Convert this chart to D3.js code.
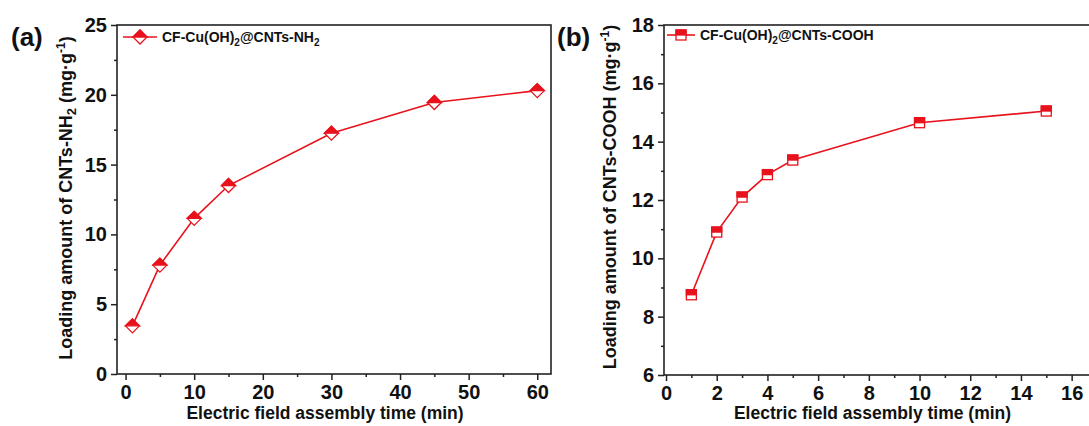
<!DOCTYPE html>
<html><head><meta charset="utf-8">
<script src="https://cdn.jsdelivr.net/npm/d3@7"></script>
<style>body{margin:0;background:#fff}svg{display:block}text{font-family:"Liberation Sans",Arial,sans-serif;font-weight:bold;fill:#111}</style>
</head><body>
<svg id="c" width="1089" height="426"></svg>
<script>
const timeA = [1, 5, 10, 15, 30, 45, 60];
const loadA = [3.45, 7.8, 11.15, 13.5, 17.25, 19.45, 20.3];
const timeB = [1, 2, 3, 4, 5, 10, 15];
const loadB = [8.75, 10.9, 12.1, 12.87, 13.37, 14.65, 15.05];
const xTicksA = [0, 10, 20, 30, 40, 50, 60];
const yTicksA = [0, 5, 10, 15, 20, 25];
const xTicksB = [0, 2, 4, 6, 8, 10, 12, 14, 16];
const yTicksB = [6, 8, 10, 12, 14, 16, 18];
const RED = "#e8121c";
const svg = d3.select("#c");

function panel(o) {
  const g = svg.append("g");
  const x = d3.scaleLinear().domain(o.xd).range(o.xr);
  const y = d3.scaleLinear().domain(o.yd).range(o.yr);
  const [x0, x1] = o.xr, [y0, y1] = o.yr;
  g.append("rect").attr("x", x0).attr("y", y1).attr("width", x1 - x0).attr("height", y0 - y1)
    .attr("fill", "none").attr("stroke", "#222").attr("stroke-width", 1.6);
  const xa = d3.axisBottom(x).tickValues(o.xt).tickSize(6).tickPadding(5).tickFormat(d3.format("d"));
  g.append("g").attr("transform", `translate(0,${y0})`).call(xa);
  const xm = d3.axisBottom(x).tickValues(o.xm).tickSize(3).tickFormat("");
  g.append("g").attr("transform", `translate(0,${y0})`).call(xm);
  const ya = d3.axisLeft(y).tickValues(o.yt).tickSize(6).tickPadding(4).tickFormat(d3.format("d"));
  g.append("g").attr("transform", `translate(${x0},0)`).call(ya);
  const ym = d3.axisLeft(y).tickValues(o.ym).tickSize(3).tickFormat("");
  g.append("g").attr("transform", `translate(${x0},0)`).call(ym);
  g.selectAll(".domain").remove();
  g.selectAll(".tick line").attr("stroke", "#222").attr("stroke-width", 1.5);
  g.selectAll(".tick text").style("font-size", "20px").attr("fill", "#111");
  g.append("path").datum(o.xs.map((d, i) => [d, o.ys[i]]))
    .attr("d", d3.line().x(d => x(d[0])).y(d => y(d[1])))
    .attr("fill", "none").attr("stroke", RED).attr("stroke-width", 1.6);
  o.xs.forEach((d, i) => o.marker(g, x(d), y(o.ys[i])));
  // legend
  g.append("line").attr("x1", o.leg[0]).attr("x2", o.leg[0] + o.legW).attr("y1", o.leg[1]).attr("y2", o.leg[1])
    .attr("stroke", RED).attr("stroke-width", 1.6);
  o.marker(g, o.leg[0] + o.legW / 2, o.leg[1]);
  const lt = g.append("text").attr("x", o.leg[0] + o.legW + 5).attr("y", o.leg[1] + 5).style("font-size", "14px");
  lt.append("tspan").text("CF-Cu(OH)");
  lt.append("tspan").text("2").attr("dy", 4).style("font-size", "10px");
  lt.append("tspan").text("@CNTs-" + o.grp).attr("dy", -4);
  if (o.grpSub) { lt.append("tspan").text("2").attr("dy", 4).style("font-size", "10px"); }
  // x label
  g.append("text").attr("x", (o.xr[0] + o.xr[1]) / 2 + o.xlOff).attr("y", 419)
    .attr("text-anchor", "middle").style("font-size", "17.5px").text("Electric field assembly time (min)");
  // y label
  const yl = g.append("text").attr("transform", `translate(${o.ylx},${o.yly}) rotate(-90)`)
    .attr("text-anchor", "middle").style("font-size", "18px");
  yl.append("tspan").text("Loading amount of CNTs-" + o.grp);
  if (o.grpSub) yl.append("tspan").text("2").attr("dy", 4).style("font-size", "13px");
  yl.append("tspan").text(" (mg·g").attr("dy", o.grpSub ? -4 : 0);
  yl.append("tspan").text("-1").attr("dy", -7).style("font-size", "12px");
  yl.append("tspan").text(")").attr("dy", 7);
  g.append("text").attr("x", o.pl[0]).attr("y", o.pl[1]).style("font-size", "26px").text(o.plt);
}

function diamond(g, cx, cy) {
  const r = 7;
  g.append("path").attr("d", `M${cx},${cy - r}L${cx + r},${cy}L${cx},${cy + r}L${cx - r},${cy}Z`)
    .attr("fill", "#fff").attr("stroke", RED).attr("stroke-width", 1.3);
  g.append("path").attr("d", `M${cx},${cy - r}L${cx + r},${cy}L${cx - r},${cy}Z`)
    .attr("fill", RED).attr("stroke", RED).attr("stroke-width", 1.3);
}
function square(g, cx, cy) {
  const r = 5;
  g.append("rect").attr("x", cx - r).attr("y", cy - r).attr("width", 2 * r).attr("height", 2 * r)
    .attr("fill", "#fff").attr("stroke", RED).attr("stroke-width", 1.3);
  g.append("rect").attr("x", cx - r).attr("y", cy - r).attr("width", 2 * r).attr("height", r)
    .attr("fill", RED).attr("stroke", RED).attr("stroke-width", 1.3);
}

panel({xd: [-1.25, 62], xr: [117, 551], yd: [0, 25], yr: [374, 25],
  xt: xTicksA, xm: [5, 15, 25, 35, 45, 55], yt: yTicksA, ym: [2.5, 7.5, 12.5, 17.5, 22.5],
  xs: timeA, ys: loadA, marker: diamond, leg: [123, 37], legW: 34, grp: "NH", grpSub: true,
  ylx: 72, yly: 198, xlOff: -9, pl: [11, 46], plt: "(a)"});
panel({xd: [-0.08, 17], xr: [664, 1097], yd: [6, 18], yr: [375, 25],
  xt: xTicksB, xm: [1, 3, 5, 7, 9, 11, 13, 15], yt: yTicksB, ym: [7, 9, 11, 13, 15, 17],
  xs: timeB, ys: loadB, marker: square, leg: [667, 35], legW: 28, grp: "COOH", grpSub: false,
  ylx: 616, yly: 197, xlOff: -8, pl: [557, 46], plt: "(b)"});
</script>
</body></html>
